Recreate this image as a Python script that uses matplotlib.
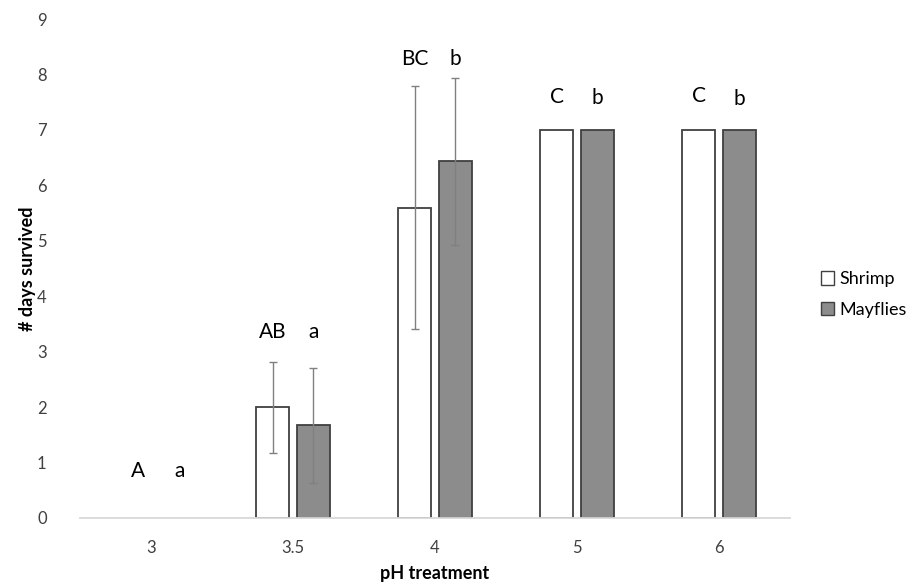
import numpy as np
import matplotlib
matplotlib.use('Agg')
import matplotlib.pyplot as plt
from matplotlib.patches import Patch

plt.rcParams['font.family'] = ['Lato', 'DejaVu Sans']

ph_labels = ['3', '3.5', '4', '5', '6']
shrimp = [0, 2.0, 5.6, 7.0, 7.0]
shrimp_err = [0, 0.82, 2.19, 0, 0]
mayflies = [0, 1.67, 6.43, 7.0, 7.0]
mayflies_err = [0, 1.04, 1.51, 0, 0]
shrimp_letters = ['A', 'AB', 'BC', 'C', 'C']
mayfly_letters = ['a', 'a', 'b', 'b', 'b']
shrimp_letter_y = [0.85, 3.35, 8.27, 7.6, 7.62]
mayfly_letter_y = [0.85, 3.35, 8.27, 7.57, 7.55]

fig = plt.figure(figsize=(9.11, 5.83), dpi=100)
ax = fig.add_axes([0.0878, 0.1115, 0.7794, 0.8559])

x = np.arange(len(ph_labels))
w = 0.232
off = 0.143
edge = '#404040'
errc = '#808080'

# zero-height bars are not drawn in the original
lw_s = [1.3 if v > 0 else 0 for v in shrimp]
lw_m = [1.3 if v > 0 else 0 for v in mayflies]
ax.bar(x - off, shrimp, w, color='white', edgecolor=edge, linewidth=lw_s, zorder=2)
ax.bar(x + off, mayflies, w, color='#8c8c8c', edgecolor=edge, linewidth=lw_m, zorder=2)
for i in range(len(x)):
    if shrimp_err[i] > 0:
        ax.errorbar(x[i] - off, shrimp[i], yerr=shrimp_err[i], fmt='none',
                    ecolor=errc, elinewidth=1, capsize=3, capthick=1, zorder=3)
    if mayflies_err[i] > 0:
        ax.errorbar(x[i] + off, mayflies[i], yerr=mayflies_err[i], fmt='none',
                    ecolor=errc, elinewidth=1, capsize=3, capthick=1, zorder=3)

for i in range(len(x)):
    dx = 0.055 if i == 0 else 0
    ax.text(x[i] - off + dx, shrimp_letter_y[i], shrimp_letters[i], ha='center',
            va='center', fontsize=15)
    ax.text(x[i] + off + dx, mayfly_letter_y[i], mayfly_letters[i], ha='center',
            va='center', fontsize=15)

ax.set_xlim(-0.5, len(x) - 0.5)
ax.set_ylim(0, 9)
ax.set_yticks(range(10))
ax.set_xticks(x)
ax.set_xticklabels(ph_labels)
ax.tick_params(axis='both', length=0, labelsize=12, labelcolor='#404040')
ax.tick_params(axis='y', pad=24)
ax.tick_params(axis='x', pad=16)
for s in ['top', 'right', 'left']:
    ax.spines[s].set_visible(False)
ax.spines['bottom'].set_color('#d9d9d9')
ax.spines['bottom'].set_linewidth(1.3)

ax.set_xlabel('pH treatment', fontsize=13, fontweight='bold', labelpad=6)
ax.set_ylabel('# days survived', fontsize=13, fontweight='bold', labelpad=1)

handles = [Patch(facecolor='white', edgecolor=edge, label='Shrimp'),
           Patch(facecolor='#8c8c8c', edgecolor=edge, label='Mayflies')]
fig.legend(handles=handles, loc='center left', bbox_to_anchor=(0.883, 0.495),
           frameon=False, fontsize=13, handlelength=0.75, handleheight=0.75,
           handletextpad=0.3, labelspacing=0.8)

fig.savefig('out.png', dpi=100)
